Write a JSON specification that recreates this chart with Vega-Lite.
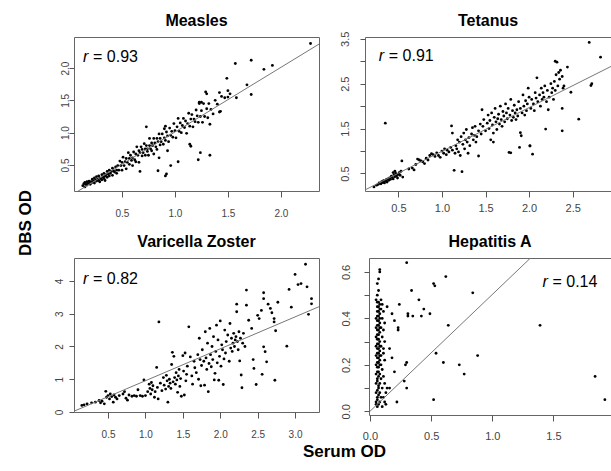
{
"$schema": "https://vega.github.io/schema/vega-lite/v6.json",
"background": "white",
"padding": {"left": 16, "top": 12, "right": 2, "bottom": 4},
"title": {"text": "DBS OD", "orient": "left", "anchor": "middle", "fontSize": 17, "offset": 19, "dx": 13},
"vconcat": [{
  "title": {"text": "Serum OD", "orient": "bottom", "anchor": "middle", "fontSize": 17, "offset": 2, "dx": 12},
  "spacing": 14,
  "vconcat": [
    {"bounds": "flush", "spacing": 46, "hconcat": [
      {"width": 245, "height": 154, "title": {"text": "Measles"},
       "layer": [
        {"data": {"name": "measles"}, "mark": {"type": "circle", "size": 8, "color": "black", "opacity": 1},
         "encoding": {
          "x": {"field": "x", "type": "quantitative", "scale": {"domain": [0.047, 2.36], "nice": false, "zero": false}, "axis": {"title": null, "values": [0.5, 1, 1.5, 2], "tickCount": 20, "format": ".1f", "tickSize": 6, "labelPadding": 11, "labelFontSize": 10, "labelOverlap": false}},
          "y": {"field": "y", "type": "quantitative", "scale": {"domain": [0.097, 2.48], "nice": false, "zero": false}, "axis": {"title": null, "values": [0.5, 1, 1.5, 2], "tickCount": 20, "format": ".1f", "tickSize": 5, "labelPadding": -1, "labelFontSize": 10, "labelOverlap": false}}}},
        {"data": {"values": [{}]}, "mark": {"type": "rule", "clip": true, "color": "#777", "strokeWidth": 1},
         "encoding": {"x": {"datum": 0, "type": "quantitative"}, "y": {"datum": 0.01, "type": "quantitative"}, "x2": {"datum": 2.6}, "y2": {"datum": 2.61}}},
        {"data": {"values": [{}]}, "mark": {"type": "text", "fontStyle": "italic", "align": "left", "baseline": "alphabetic", "fontSize": 16},
         "encoding": {"x": {"datum": 0.132, "type": "quantitative"}, "y": {"datum": 2.093, "type": "quantitative"}, "text": {"value": "r"}}},
        {"data": {"values": [{}]}, "mark": {"type": "text", "align": "left", "baseline": "alphabetic", "fontSize": 16, "dx": 10},
         "encoding": {"x": {"datum": 0.132, "type": "quantitative"}, "y": {"datum": 2.093, "type": "quantitative"}, "text": {"value": "= 0.93"}}}
       ]},
      {"width": 246, "height": 154, "title": {"text": "Tetanus", "offset": 2},
       "layer": [
        {"data": {"name": "tetanus"}, "mark": {"type": "circle", "size": 8, "color": "black", "opacity": 1},
         "encoding": {
          "x": {"field": "x", "type": "quantitative", "scale": {"domain": [0.117, 2.94], "nice": false, "zero": false}, "axis": {"title": null, "values": [0.5, 1, 1.5, 2, 2.5], "tickCount": 20, "format": ".1f", "tickSize": 6, "labelPadding": 5, "labelFontSize": 11, "labelOverlap": false}},
          "y": {"field": "y", "type": "quantitative", "scale": {"domain": [0.11, 3.54], "nice": false, "zero": false}, "axis": {"title": null, "values": [0.5, 1, 1.5, 2, 2.5, 3, 3.5], "tickCount": 20, "labelExpr": "datum.value % 1 === 0 ? '' : format(datum.value, '.1f')", "tickSize": 5, "labelPadding": 10, "labelFontSize": 11, "labelOverlap": false}}}},
        {"data": {"values": [{}]}, "mark": {"type": "rule", "clip": true, "color": "#777", "strokeWidth": 1},
         "encoding": {"x": {"datum": 0, "type": "quantitative"}, "y": {"datum": 0.02, "type": "quantitative"}, "x2": {"datum": 3.1}, "y2": {"datum": 3.04}}},
        {"data": {"values": [{}]}, "mark": {"type": "text", "fontStyle": "italic", "align": "left", "baseline": "alphabetic", "fontSize": 16},
         "encoding": {"x": {"datum": 0.275, "type": "quantitative"}, "y": {"datum": 3.0, "type": "quantitative"}, "text": {"value": "r"}}},
        {"data": {"values": [{}]}, "mark": {"type": "text", "align": "left", "baseline": "alphabetic", "fontSize": 16, "dx": 10},
         "encoding": {"x": {"datum": 0.275, "type": "quantitative"}, "y": {"datum": 3.0, "type": "quantitative"}, "text": {"value": "= 0.91"}}}
       ]}
    ]},
    {"bounds": "flush", "spacing": 50, "hconcat": [
      {"width": 245, "height": 154, "title": {"text": "Varicella Zoster"},
       "layer": [
        {"data": {"name": "varicella"}, "mark": {"type": "circle", "size": 8, "color": "black", "opacity": 1},
         "encoding": {
          "x": {"field": "x", "type": "quantitative", "scale": {"domain": [0.045, 3.32], "nice": false, "zero": false}, "axis": {"title": null, "values": [0.5, 1, 1.5, 2, 2.5, 3], "tickCount": 20, "format": ".1f", "tickSize": 6, "labelPadding": 11, "labelFontSize": 10, "labelOverlap": false}},
          "y": {"field": "y", "type": "quantitative", "scale": {"domain": [0, 4.7], "nice": false, "zero": false}, "axis": {"title": null, "values": [0, 1, 2, 3, 4], "tickCount": 20, "format": "d", "tickSize": 5, "labelPadding": 5, "labelFontSize": 10, "labelOverlap": false}}}},
        {"data": {"values": [{}]}, "mark": {"type": "rule", "clip": true, "color": "#777", "strokeWidth": 1},
         "encoding": {"x": {"datum": 0, "type": "quantitative"}, "y": {"datum": -0.02, "type": "quantitative"}, "x2": {"datum": 3.5}, "y2": {"datum": 3.39}}},
        {"data": {"values": [{}]}, "mark": {"type": "text", "fontStyle": "italic", "align": "left", "baseline": "alphabetic", "fontSize": 16},
         "encoding": {"x": {"datum": 0.166, "type": "quantitative"}, "y": {"datum": 3.905, "type": "quantitative"}, "text": {"value": "r"}}},
        {"data": {"values": [{}]}, "mark": {"type": "text", "align": "left", "baseline": "alphabetic", "fontSize": 16, "dx": 10},
         "encoding": {"x": {"datum": 0.166, "type": "quantitative"}, "y": {"datum": 3.905, "type": "quantitative"}, "text": {"value": "= 0.82"}}}
       ]},
      {"width": 242, "height": 157, "title": {"text": "Hepatitis A"},
       "layer": [
        {"data": {"name": "hepa"}, "mark": {"type": "circle", "size": 8, "color": "black", "opacity": 1},
         "encoding": {
          "x": {"field": "x", "type": "quantitative", "scale": {"domain": [-0.008, 1.97], "nice": false, "zero": false}, "axis": {"title": null, "values": [0, 0.5, 1, 1.5], "tickCount": 20, "format": ".1f", "tickSize": 6, "labelPadding": 9, "labelFontSize": 11, "labelOverlap": false}},
          "y": {"field": "y", "type": "quantitative", "scale": {"domain": [-0.016, 0.66], "nice": false, "zero": false}, "axis": {"title": null, "values": [0, 0.1, 0.2, 0.3, 0.4, 0.5, 0.6], "tickCount": 20, "labelExpr": "round(datum.value * 10) % 2 === 0 ? format(datum.value, '.1f') : ''", "tickSize": 5, "labelPadding": 13, "labelFontSize": 11, "labelOverlap": false}}}},
        {"data": {"values": [{}]}, "mark": {"type": "rule", "clip": true, "color": "#777", "strokeWidth": 1},
         "encoding": {"x": {"datum": 0, "type": "quantitative"}, "y": {"datum": 0, "type": "quantitative"}, "x2": {"datum": 2}, "y2": {"datum": 1.006}}},
        {"data": {"values": [{}]}, "mark": {"type": "text", "fontStyle": "italic", "align": "left", "baseline": "alphabetic", "fontSize": 16},
         "encoding": {"x": {"datum": 1.41, "type": "quantitative"}, "y": {"datum": 0.535, "type": "quantitative"}, "text": {"value": "r"}}},
        {"data": {"values": [{}]}, "mark": {"type": "text", "align": "left", "baseline": "alphabetic", "fontSize": 16, "dx": 10},
         "encoding": {"x": {"datum": 1.41, "type": "quantitative"}, "y": {"datum": 0.535, "type": "quantitative"}, "text": {"value": "= 0.14"}}}
       ]}
    ]}
  ]
}],
"datasets": {
"measles": [
{"x":0.13,"y":0.18},{"x":0.14,"y":0.21},{"x":0.15,"y":0.16},{"x":0.15,"y":0.23},{"x":0.16,"y":0.20},{"x":0.17,"y":0.24},{"x":0.17,"y":0.19},{"x":0.18,"y":0.21},{"x":0.19,"y":0.25},{"x":0.19,"y":0.22},{"x":0.20,"y":0.20},{"x":0.21,"y":0.24},{"x":0.22,"y":0.28},{"x":0.22,"y":0.23},{"x":0.23,"y":0.25},{"x":0.24,"y":0.30},{"x":0.24,"y":0.22},{"x":0.25,"y":0.27},{"x":0.26,"y":0.25},{"x":0.26,"y":0.32},{"x":0.27,"y":0.28},{"x":0.28,"y":0.26},{"x":0.28,"y":0.33},{"x":0.29,"y":0.30},{"x":0.29,"y":0.24},{"x":0.30,"y":0.29},{"x":0.31,"y":0.35},{"x":0.31,"y":0.27},{"x":0.32,"y":0.31},{"x":0.33,"y":0.29},{"x":0.33,"y":0.37},{"x":0.34,"y":0.33},{"x":0.34,"y":0.26},{"x":0.35,"y":0.35},{"x":0.36,"y":0.31},{"x":0.36,"y":0.40},{"x":0.37,"y":0.36},{"x":0.38,"y":0.33},{"x":0.38,"y":0.42},{"x":0.39,"y":0.37},{"x":0.40,"y":0.40},{"x":0.41,"y":0.34},{"x":0.41,"y":0.45},{"x":0.42,"y":0.41},{"x":0.43,"y":0.39},{"x":0.44,"y":0.47},{"x":0.45,"y":0.42},{"x":0.45,"y":0.37},
{"x":0.46,"y":0.49},{"x":0.47,"y":0.42},{"x":0.48,"y":0.56},{"x":0.49,"y":0.49},{"x":0.50,"y":0.42},{"x":0.50,"y":0.54},{"x":0.51,"y":0.62},{"x":0.52,"y":0.49},{"x":0.53,"y":0.55},{"x":0.54,"y":0.44},{"x":0.54,"y":0.60},{"x":0.55,"y":0.54},{"x":0.56,"y":0.69},{"x":0.57,"y":0.51},{"x":0.57,"y":0.60},{"x":0.58,"y":0.65},{"x":0.59,"y":0.57},{"x":0.60,"y":0.61},{"x":0.60,"y":0.49},{"x":0.61,"y":0.70},{"x":0.62,"y":0.58},{"x":0.63,"y":0.67},{"x":0.63,"y":0.55},{"x":0.64,"y":0.78},{"x":0.65,"y":0.65},{"x":0.66,"y":0.72},{"x":0.66,"y":0.54},{"x":0.67,"y":0.69},{"x":0.68,"y":0.78},{"x":0.69,"y":0.64},{"x":0.69,"y":0.74},{"x":0.70,"y":0.69},{"x":0.71,"y":0.83},{"x":0.72,"y":0.65},{"x":0.72,"y":0.75},{"x":0.73,"y":0.80},{"x":0.74,"y":0.71},{"x":0.74,"y":0.75},{"x":0.75,"y":0.65},{"x":0.76,"y":0.80},{"x":0.76,"y":0.91},{"x":0.77,"y":0.75},{"x":0.78,"y":0.84},{"x":0.78,"y":0.72},{"x":0.79,"y":0.80},{"x":0.80,"y":0.91},{"x":0.80,"y":0.67},{"x":0.81,"y":0.84},{"x":0.82,"y":0.78},{"x":0.83,"y":0.91},{"x":0.83,"y":0.74},{"x":0.84,"y":0.86},{"x":0.85,"y":0.98},{"x":0.86,"y":0.81},{"x":0.86,"y":0.91},{"x":0.87,"y":0.86},{"x":0.88,"y":0.98},{"x":0.89,"y":0.82},{"x":0.90,"y":0.92},{"x":0.90,"y":1.06},
{"x":0.91,"y":0.88},{"x":0.92,"y":1.01},{"x":0.93,"y":0.95},{"x":0.94,"y":0.86},{"x":0.95,"y":1.07},{"x":0.96,"y":0.96},{"x":0.97,"y":1.02},{"x":0.98,"y":0.93},{"x":0.99,"y":1.14},{"x":1.00,"y":1.03},{"x":1.01,"y":0.92},{"x":1.02,"y":1.09},{"x":1.03,"y":1.22},{"x":1.04,"y":1.02},{"x":1.05,"y":1.15},{"x":1.06,"y":1.00},{"x":1.07,"y":1.11},{"x":1.08,"y":1.22},{"x":1.09,"y":1.08},{"x":1.10,"y":1.18},{"x":1.11,"y":0.99},{"x":1.12,"y":1.14},{"x":1.13,"y":1.30},{"x":1.14,"y":1.10},{"x":1.15,"y":1.21},{"x":1.16,"y":1.28},{"x":1.17,"y":1.09},{"x":1.18,"y":1.21},{"x":1.19,"y":1.17},{"x":1.20,"y":1.35},{"x":1.21,"y":1.26},{"x":1.22,"y":1.16},{"x":1.23,"y":1.45},{"x":1.24,"y":1.25},{"x":1.25,"y":1.34},{"x":1.26,"y":1.16},{"x":1.27,"y":1.45},{"x":1.28,"y":1.25},{"x":1.30,"y":1.37},{"x":1.31,"y":1.23},{"x":1.32,"y":1.45},{"x":1.34,"y":1.36},{"x":1.36,"y":1.29},{"x":1.38,"y":1.50},{"x":1.40,"y":1.44},{"x":1.42,"y":1.32},
{"x":0.67,"y":0.40},{"x":0.84,"y":0.41},{"x":0.91,"y":0.33},{"x":0.92,"y":0.36},{"x":0.96,"y":0.49},{"x":1.03,"y":0.55},{"x":1.14,"y":0.82},{"x":1.15,"y":0.79},{"x":1.22,"y":0.58},{"x":1.24,"y":0.69},{"x":1.33,"y":0.65},{"x":0.85,"y":0.61},{"x":0.93,"y":0.72},
{"x":0.73,"y":1.09},{"x":0.91,"y":1.10},{"x":1.23,"y":1.47},{"x":1.25,"y":1.47},{"x":1.29,"y":1.63},{"x":1.30,"y":1.60},{"x":1.42,"y":1.62},{"x":1.49,"y":1.84},{"x":1.50,"y":1.65},{"x":1.47,"y":1.54},{"x":1.50,"y":1.55},{"x":1.57,"y":2.07},{"x":1.58,"y":1.54},{"x":1.68,"y":1.74},{"x":1.72,"y":1.59},{"x":1.72,"y":2.12},{"x":1.84,"y":1.98},{"x":1.92,"y":2.04},{"x":2.28,"y":2.38},{"x":1.43,"y":1.33},{"x":1.33,"y":1.13},{"x":1.44,"y":1.56},{"x":1.52,"y":1.60}
],
"tetanus": [
{"x":0.22,"y":0.20},{"x":0.25,"y":0.24},{"x":0.27,"y":0.26},{"x":0.28,"y":0.29},{"x":0.30,"y":0.27},{"x":0.31,"y":0.32},{"x":0.32,"y":0.30},{"x":0.33,"y":0.34},{"x":0.34,"y":0.29},{"x":0.35,"y":0.33},{"x":0.36,"y":0.36},{"x":0.37,"y":0.31},{"x":0.38,"y":0.38},{"x":0.39,"y":0.35},{"x":0.40,"y":0.40},{"x":0.41,"y":0.37},{"x":0.42,"y":0.44},{"x":0.43,"y":0.41},{"x":0.44,"y":0.38},{"x":0.45,"y":0.47},{"x":0.46,"y":0.43},{"x":0.47,"y":0.50},{"x":0.48,"y":0.45},{"x":0.49,"y":0.40},{"x":0.50,"y":0.48},{"x":0.51,"y":0.52},{"x":0.52,"y":0.46},{"x":0.53,"y":0.55},{"x":0.55,"y":0.42},{"x":0.54,"y":0.78},{"x":0.46,"y":0.55},{"x":0.44,"y":0.52},{"x":0.35,"y":1.62},
{"x":0.62,"y":0.60},{"x":0.66,"y":0.62},{"x":0.68,"y":0.58},{"x":0.70,"y":0.70},{"x":0.72,"y":0.82},{"x":0.74,"y":0.80},{"x":0.76,"y":0.78},{"x":0.78,"y":0.76},{"x":0.80,"y":0.72},{"x":0.82,"y":0.84},{"x":0.84,"y":0.80},{"x":0.86,"y":0.90},{"x":0.88,"y":0.94},{"x":0.90,"y":0.92},{"x":0.92,"y":0.88},{"x":0.94,"y":0.96},{"x":0.96,"y":0.90},{"x":0.98,"y":0.86},{"x":1.00,"y":1.00},{"x":1.02,"y":0.95},{"x":1.03,"y":1.05},{"x":1.05,"y":0.92},{"x":1.06,"y":1.02},{"x":1.08,"y":0.98},{"x":1.10,"y":1.08},{"x":1.11,"y":1.56},{"x":1.12,"y":1.40},{"x":1.12,"y":1.02},{"x":1.14,"y":0.57},{"x":1.15,"y":0.95},{"x":1.16,"y":1.12},{"x":1.17,"y":1.05},{"x":1.18,"y":1.25},{"x":1.19,"y":0.98},{"x":1.20,"y":1.20},{"x":1.21,"y":0.90},{"x":1.22,"y":1.32},{"x":1.23,"y":0.54},{"x":1.24,"y":1.15},{"x":1.25,"y":1.40},{"x":1.26,"y":1.05},{"x":1.27,"y":1.25},{"x":1.28,"y":1.48},{"x":1.29,"y":1.20},{"x":1.30,"y":0.95},{"x":1.31,"y":1.30},{"x":1.32,"y":1.12},{"x":1.34,"y":1.38},{"x":1.35,"y":1.52},{"x":1.36,"y":1.25},{"x":1.37,"y":1.35},{"x":1.38,"y":1.55},{"x":1.39,"y":1.20},{"x":1.40,"y":1.32},{"x":1.42,"y":0.89},{"x":1.42,"y":1.45},{"x":1.44,"y":1.60},{"x":1.45,"y":1.38},{"x":1.46,"y":1.92},{"x":1.47,"y":1.55},{"x":1.48,"y":1.70},{"x":1.50,"y":1.45},{"x":1.52,"y":1.62},{"x":1.53,"y":1.80},{"x":1.54,"y":1.50},{"x":1.55,"y":1.68},{"x":1.56,"y":1.25},{"x":1.57,"y":1.85},{"x":1.58,"y":1.58},{"x":1.59,"y":1.40},{"x":1.60,"y":1.75},{"x":1.61,"y":1.95},{"x":1.62,"y":1.65},{"x":1.63,"y":1.48},{"x":1.64,"y":1.72},{"x":1.65,"y":1.82},{"x":1.66,"y":1.60},{"x":1.67,"y":2.00},{"x":1.68,"y":1.70},{"x":1.69,"y":1.55},{"x":1.70,"y":1.88},{"x":1.71,"y":1.78},{"x":1.72,"y":1.65},{"x":1.73,"y":2.05},{"x":1.74,"y":1.85},{"x":1.75,"y":1.72},{"x":1.76,"y":1.95},{"x":1.77,"y":0.97},{"x":1.78,"y":1.80},{"x":1.79,"y":2.15},{"x":1.80,"y":1.68},{"x":1.81,"y":1.90},{"x":1.82,"y":1.75},{"x":1.83,"y":2.02},{"x":1.84,"y":1.85},{"x":1.85,"y":1.70},{"x":1.86,"y":1.92},{"x":1.87,"y":1.78},{"x":1.88,"y":2.10},{"x":1.89,"y":1.08},{"x":1.90,"y":1.95},{"x":1.90,"y":1.41},{"x":1.91,"y":1.34},{"x":1.92,"y":1.85},{"x":1.93,"y":2.25},{"x":1.94,"y":2.00},{"x":1.95,"y":1.80},{"x":1.96,"y":2.12},{"x":1.97,"y":1.90},{"x":1.98,"y":2.05},{"x":1.99,"y":2.40},{"x":2.00,"y":2.20},{"x":2.01,"y":1.12},{"x":2.02,"y":1.95},{"x":2.03,"y":2.15},{"x":2.04,"y":0.93},{"x":2.05,"y":2.05},{"x":2.06,"y":1.90},{"x":2.07,"y":2.30},{"x":2.08,"y":2.18},{"x":2.09,"y":2.63},{"x":2.10,"y":2.10},{"x":2.12,"y":2.25},{"x":2.13,"y":2.00},{"x":2.14,"y":2.40},{"x":2.15,"y":2.15},{"x":2.16,"y":2.30},{"x":2.17,"y":2.20},{"x":2.18,"y":2.45},{"x":2.19,"y":1.49},{"x":2.20,"y":2.10},{"x":2.21,"y":2.35},{"x":2.22,"y":1.92},{"x":2.23,"y":2.20},{"x":2.25,"y":2.50},{"x":2.26,"y":2.30},{"x":2.27,"y":2.40},{"x":2.28,"y":2.15},{"x":2.29,"y":2.55},{"x":2.30,"y":2.35},{"x":2.30,"y":3.00},{"x":2.31,"y":2.70},{"x":2.32,"y":2.98},{"x":2.33,"y":2.45},{"x":2.34,"y":2.75},{"x":2.35,"y":2.60},{"x":2.36,"y":2.80},{"x":2.38,"y":2.66},{"x":2.38,"y":1.95},{"x":2.38,"y":1.45},{"x":2.39,"y":2.40},{"x":2.40,"y":2.45},{"x":2.44,"y":2.87},{"x":2.48,"y":2.31},{"x":2.57,"y":1.71},{"x":2.69,"y":3.42},{"x":2.71,"y":2.46},{"x":2.72,"y":2.50},{"x":2.82,"y":3.09},{"x":1.59,"y":1.20},{"x":1.79,"y":0.96},{"x":2.01,"y":1.11}
],
"varicella": [
{"x":0.15,"y":0.20},{"x":0.18,"y":0.22},{"x":0.22,"y":0.25},{"x":0.28,"y":0.28},{"x":0.33,"y":0.30},{"x":0.38,"y":0.35},{"x":0.40,"y":0.28},{"x":0.42,"y":0.33},{"x":0.45,"y":0.25},{"x":0.47,"y":0.63},{"x":0.48,"y":0.45},{"x":0.50,"y":0.50},{"x":0.52,"y":0.40},{"x":0.53,"y":0.55},{"x":0.55,"y":0.47},{"x":0.57,"y":0.30},{"x":0.58,"y":0.52},{"x":0.60,"y":0.45},{"x":0.62,"y":0.40},{"x":0.65,"y":0.50},{"x":0.70,"y":0.55},{"x":0.72,"y":0.62},{"x":0.74,"y":0.42},{"x":0.76,"y":0.36},{"x":0.78,"y":0.52},{"x":0.82,"y":0.48},{"x":0.85,"y":0.50},{"x":0.88,"y":0.48},{"x":0.90,"y":0.68},{"x":0.93,"y":0.50},{"x":0.96,"y":0.48},{"x":0.98,"y":0.98},{"x":1.00,"y":0.50},{"x":1.03,"y":0.62},{"x":1.05,"y":0.85},{"x":1.06,"y":0.72},{"x":1.07,"y":0.55},{"x":1.08,"y":0.90},{"x":1.09,"y":0.68},{"x":1.10,"y":0.80},{"x":1.12,"y":0.45},{"x":1.13,"y":0.62},{"x":1.15,"y":1.36},{"x":1.16,"y":0.75},{"x":1.17,"y":0.40},{"x":1.18,"y":2.75},{"x":1.20,"y":0.88},{"x":1.22,"y":0.65},{"x":1.24,"y":1.05},{"x":1.25,"y":0.82},{"x":1.27,"y":0.70},{"x":1.28,"y":1.12},{"x":1.29,"y":0.95},{"x":1.30,"y":0.30},{"x":1.31,"y":0.78},{"x":1.32,"y":1.00},{"x":1.33,"y":0.88},{"x":1.34,"y":0.72},{"x":1.35,"y":1.45},{"x":1.36,"y":1.82},{"x":1.37,"y":0.92},{"x":1.38,"y":1.70},{"x":1.39,"y":1.05},{"x":1.40,"y":0.85},{"x":1.41,"y":1.20},{"x":1.42,"y":0.98},{"x":1.43,"y":0.60},{"x":1.44,"y":1.10},{"x":1.45,"y":1.30},{"x":1.46,"y":0.78},{"x":1.47,"y":1.02},{"x":1.48,"y":0.48},{"x":1.50,"y":1.72},{"x":1.51,"y":1.25},{"x":1.52,"y":0.52},{"x":1.53,"y":1.80},{"x":1.54,"y":0.95},{"x":1.55,"y":1.15},{"x":1.56,"y":1.40},{"x":1.58,"y":2.60},{"x":1.60,"y":1.68},{"x":1.62,"y":1.10},{"x":1.63,"y":0.85},{"x":1.65,"y":1.55},{"x":1.66,"y":1.35},{"x":1.68,"y":1.20},{"x":1.70,"y":1.75},{"x":1.71,"y":1.00},{"x":1.72,"y":2.25},{"x":1.73,"y":1.60},{"x":1.74,"y":0.80},{"x":1.75,"y":1.42},{"x":1.76,"y":1.90},{"x":1.78,"y":1.55},{"x":1.79,"y":0.82},{"x":1.80,"y":2.45},{"x":1.81,"y":1.65},{"x":1.82,"y":1.30},{"x":1.83,"y":2.10},{"x":1.84,"y":0.62},{"x":1.85,"y":1.48},{"x":1.86,"y":2.55},{"x":1.87,"y":1.75},{"x":1.88,"y":1.38},{"x":1.89,"y":2.00},{"x":1.90,"y":1.60},{"x":1.91,"y":2.30},{"x":1.92,"y":0.98},{"x":1.93,"y":1.18},{"x":1.94,"y":1.85},{"x":1.95,"y":2.65},{"x":1.96,"y":1.50},{"x":1.97,"y":2.20},{"x":1.98,"y":0.97},{"x":1.99,"y":1.70},{"x":2.00,"y":2.78},{"x":2.01,"y":1.40},{"x":2.02,"y":2.05},{"x":2.03,"y":1.90},{"x":2.04,"y":0.84},{"x":2.05,"y":1.62},{"x":2.06,"y":2.50},{"x":2.07,"y":1.80},{"x":2.08,"y":2.15},{"x":2.10,"y":2.35},{"x":2.12,"y":1.55},{"x":2.13,"y":2.70},{"x":2.14,"y":1.95},{"x":2.15,"y":2.25},{"x":2.16,"y":1.85},{"x":2.17,"y":2.10},{"x":2.18,"y":2.40},{"x":2.19,"y":2.00},{"x":2.20,"y":2.20},{"x":2.21,"y":2.30},{"x":2.22,"y":3.29},{"x":2.22,"y":3.06},{"x":2.23,"y":2.15},{"x":2.24,"y":1.90},{"x":2.25,"y":2.45},{"x":2.26,"y":1.56},{"x":2.27,"y":2.25},{"x":2.28,"y":1.13},{"x":2.29,"y":0.74},{"x":2.30,"y":2.10},{"x":2.31,"y":2.40},{"x":2.33,"y":2.00},{"x":2.35,"y":3.72},{"x":2.35,"y":3.26},{"x":2.38,"y":2.80},{"x":2.42,"y":2.55},{"x":2.44,"y":1.60},{"x":2.45,"y":1.33},{"x":2.48,"y":0.84},{"x":2.50,"y":2.95},{"x":2.52,"y":2.85},{"x":2.55,"y":3.10},{"x":2.56,"y":1.15},{"x":2.58,"y":3.46},{"x":2.58,"y":3.64},{"x":2.58,"y":1.99},{"x":2.60,"y":1.84},{"x":2.62,"y":1.53},{"x":2.64,"y":3.29},{"x":2.67,"y":3.16},{"x":2.69,"y":3.03},{"x":2.72,"y":2.85},{"x":2.72,"y":2.75},{"x":2.73,"y":0.97},{"x":2.74,"y":2.48},{"x":2.77,"y":3.35},{"x":2.89,"y":2.01},{"x":2.92,"y":3.74},{"x":2.95,"y":3.20},{"x":3.00,"y":4.20},{"x":3.04,"y":3.89},{"x":3.08,"y":3.92},{"x":3.14,"y":4.51},{"x":3.16,"y":3.82},{"x":3.18,"y":2.98},{"x":3.22,"y":3.46},{"x":3.22,"y":3.30}
],
"hepa": [
{"x":0.06,"y":0.02},{"x":0.07,"y":0.03},{"x":0.05,"y":0.04},{"x":0.08,"y":0.04},{"x":0.06,"y":0.05},{"x":0.09,"y":0.06},{"x":0.07,"y":0.07},{"x":0.05,"y":0.08},{"x":0.08,"y":0.08},{"x":0.06,"y":0.09},{"x":0.10,"y":0.10},{"x":0.07,"y":0.11},{"x":0.05,"y":0.12},{"x":0.08,"y":0.12},{"x":0.06,"y":0.13},{"x":0.09,"y":0.14},{"x":0.07,"y":0.15},{"x":0.05,"y":0.16},{"x":0.08,"y":0.16},{"x":0.06,"y":0.17},{"x":0.10,"y":0.18},{"x":0.07,"y":0.19},{"x":0.05,"y":0.20},{"x":0.09,"y":0.20},{"x":0.06,"y":0.21},{"x":0.08,"y":0.22},{"x":0.07,"y":0.23},{"x":0.05,"y":0.24},{"x":0.09,"y":0.24},{"x":0.06,"y":0.25},{"x":0.08,"y":0.26},{"x":0.07,"y":0.27},{"x":0.11,"y":0.27},{"x":0.05,"y":0.28},{"x":0.09,"y":0.28},{"x":0.06,"y":0.29},{"x":0.08,"y":0.30},{"x":0.07,"y":0.31},{"x":0.05,"y":0.32},{"x":0.10,"y":0.32},{"x":0.06,"y":0.33},{"x":0.08,"y":0.34},{"x":0.07,"y":0.35},{"x":0.09,"y":0.36},{"x":0.05,"y":0.36},{"x":0.06,"y":0.37},{"x":0.08,"y":0.38},{"x":0.07,"y":0.39},{"x":0.10,"y":0.40},{"x":0.05,"y":0.40},{"x":0.06,"y":0.41},{"x":0.08,"y":0.42},{"x":0.07,"y":0.43},{"x":0.09,"y":0.44},{"x":0.06,"y":0.45},{"x":0.08,"y":0.46},{"x":0.07,"y":0.47},{"x":0.05,"y":0.48},{"x":0.09,"y":0.48},{"x":0.06,"y":0.50},{"x":0.07,"y":0.52},{"x":0.06,"y":0.55},{"x":0.07,"y":0.57},{"x":0.08,"y":0.60},{"x":0.08,"y":0.61},
{"x":0.05,"y":0.03},{"x":0.06,"y":0.06},{"x":0.07,"y":0.10},{"x":0.06,"y":0.14},{"x":0.07,"y":0.17},{"x":0.06,"y":0.19},{"x":0.08,"y":0.20},{"x":0.07,"y":0.21},{"x":0.06,"y":0.23},{"x":0.08,"y":0.24},{"x":0.07,"y":0.25},{"x":0.06,"y":0.27},{"x":0.08,"y":0.28},{"x":0.07,"y":0.29},{"x":0.06,"y":0.31},{"x":0.07,"y":0.33},{"x":0.06,"y":0.35},{"x":0.08,"y":0.36},{"x":0.07,"y":0.37},{"x":0.06,"y":0.39},{"x":0.08,"y":0.40},{"x":0.07,"y":0.41},{"x":0.06,"y":0.43},{"x":0.08,"y":0.44},{"x":0.07,"y":0.45},{"x":0.06,"y":0.47},{"x":0.10,"y":0.46},{"x":0.11,"y":0.43},{"x":0.12,"y":0.38},{"x":0.11,"y":0.35},{"x":0.12,"y":0.30},{"x":0.11,"y":0.25},{"x":0.12,"y":0.22},{"x":0.11,"y":0.15},{"x":0.12,"y":0.12},{"x":0.11,"y":0.06},{"x":0.12,"y":0.04},{"x":0.10,"y":0.02},
{"x":0.13,"y":0.03},{"x":0.13,"y":0.08},{"x":0.14,"y":0.10},{"x":0.16,"y":0.10},{"x":0.14,"y":0.45},{"x":0.18,"y":0.42},{"x":0.23,"y":0.36},{"x":0.23,"y":0.35},{"x":0.20,"y":0.39},{"x":0.16,"y":0.27},{"x":0.18,"y":0.23},{"x":0.20,"y":0.17},{"x":0.30,"y":0.21},{"x":0.29,"y":0.20},{"x":0.28,"y":0.13},{"x":0.30,"y":0.10},{"x":0.22,"y":0.04},{"x":0.24,"y":0.46},{"x":0.30,"y":0.64},{"x":0.31,"y":0.42},{"x":0.31,"y":0.41},{"x":0.34,"y":0.52},{"x":0.35,"y":0.41},{"x":0.40,"y":0.48},{"x":0.42,"y":0.41},{"x":0.44,"y":0.44},{"x":0.49,"y":0.42},{"x":0.52,"y":0.55},{"x":0.53,"y":0.54},{"x":0.52,"y":0.05},{"x":0.54,"y":0.25},{"x":0.60,"y":0.21},{"x":0.62,"y":0.58},{"x":0.64,"y":0.37},{"x":0.73,"y":0.20},{"x":0.77,"y":0.16},{"x":0.84,"y":0.51},{"x":0.88,"y":0.24},{"x":1.39,"y":0.37},{"x":1.84,"y":0.15},{"x":1.92,"y":0.05}
]
},
"config": {
  "font": "Liberation Sans",
  "view": {"stroke": "#666", "strokeWidth": 1},
  "axis": {"domain": false, "grid": false, "ticks": true, "tickColor": "#555", "labelColor": "#444", "labelFlush": false, "labelOverlap": false},
  "axisX": {"labelBaseline": "top"},
  "axisY": {"labelAngle": 270, "labelAlign": "center", "labelBaseline": "bottom"},
  "title": {"fontSize": 16, "fontWeight": "bold", "offset": 8, "color": "black", "font": "Liberation Sans"},
  "text": {"color": "black", "font": "Liberation Sans"}
}
}
